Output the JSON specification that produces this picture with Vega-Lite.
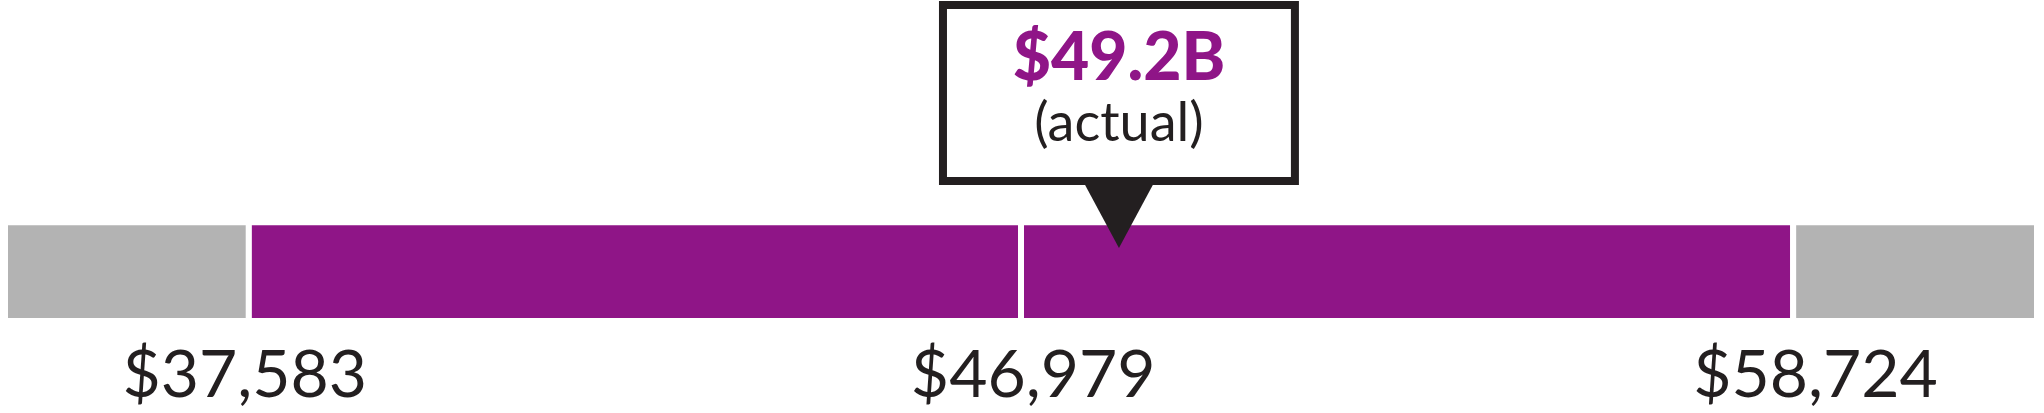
{
  "$schema": "https://vega.github.io/schema/vega-lite/v6.json",
  "autosize": {"type": "fit", "contains": "padding"},
  "width": 2044,
  "height": 413,
  "padding": 0,
  "background": "white",
  "config": {"view": {"stroke": null}},
  "datasets": {
    "segments": [
      {"start": 0, "end": 12, "kind": "tail"},
      {"start": 12, "end": 50, "kind": "core"},
      {"start": 50, "end": 88, "kind": "core"},
      {"start": 88, "end": 100, "kind": "tail"}
    ],
    "ticks": [
      {"pos": 11.8, "label": "$37,583"},
      {"pos": 50.6, "label": "$46,979"},
      {"pos": 89.1, "label": "$58,724"}
    ],
    "callout": [
      {"pos": 54.82, "left": 46.16, "right": 63.48, "value": "$49.2B", "note": "(actual)"}
    ]
  },
  "layer": [
    {
      "data": {"name": "segments"},
      "mark": {"type": "rect", "stroke": "white", "strokeWidth": 6},
      "encoding": {
        "x": {"field": "start", "type": "quantitative", "scale": {"domain": [-0.246, 100.344], "nice": false, "zero": false}, "axis": null},
        "x2": {"field": "end"},
        "y": {"datum": 22.3, "type": "quantitative", "scale": {"domain": [0, 100], "nice": false, "zero": false}, "axis": null},
        "y2": {"datum": 46.2},
        "color": {"field": "kind", "type": "nominal", "scale": {"domain": ["tail", "core"], "range": ["#b3b3b3", "#8f1587"]}, "legend": null}
      }
    },
    {
      "data": {"name": "ticks"},
      "mark": {"type": "text", "font": "Lato", "fontWeight": 400, "fontSize": 66, "align": "center", "baseline": "alphabetic", "color": "#231f20"},
      "encoding": {
        "x": {"field": "pos", "type": "quantitative"},
        "y": {"datum": 3.87, "type": "quantitative"},
        "text": {"field": "label"}
      }
    },
    {
      "data": {"name": "callout"},
      "mark": {"type": "rect", "fill": "white", "stroke": "#231f20", "strokeWidth": 8},
      "encoding": {
        "x": {"field": "left", "type": "quantitative"},
        "x2": {"field": "right"},
        "y": {"datum": 56.17, "type": "quantitative"},
        "y2": {"datum": 98.79}
      }
    },
    {
      "data": {"name": "callout"},
      "mark": {"type": "point", "filled": true, "shape": "M-1,-0.93L1,-0.93L0,0.93Z", "size": 5184, "color": "#231f20", "opacity": 1, "strokeWidth": 0},
      "encoding": {
        "x": {"field": "pos", "type": "quantitative"},
        "y": {"datum": 48.06, "type": "quantitative"}
      }
    },
    {
      "data": {"name": "callout"},
      "mark": {"type": "text", "font": "Lato", "fontWeight": 900, "fontSize": 66, "align": "center", "baseline": "alphabetic", "color": "#8f1587"},
      "encoding": {
        "x": {"field": "pos", "type": "quantitative"},
        "y": {"datum": 80.63, "type": "quantitative"},
        "text": {"field": "value"}
      }
    },
    {
      "data": {"name": "callout"},
      "mark": {"type": "text", "font": "Lato", "fontWeight": 400, "fontSize": 54, "align": "center", "baseline": "alphabetic", "color": "#231f20"},
      "encoding": {
        "x": {"field": "pos", "type": "quantitative"},
        "y": {"datum": 65.86, "type": "quantitative"},
        "text": {"field": "note"}
      }
    }
  ]
}
